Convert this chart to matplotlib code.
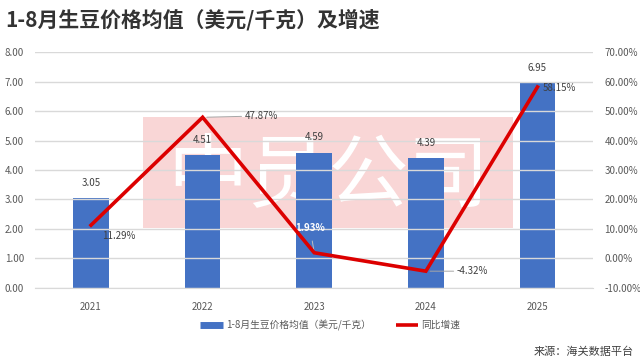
import matplotlib
matplotlib.use("Agg")
import matplotlib.pyplot as plt
from matplotlib.patches import Rectangle
from matplotlib.lines import Line2D
from matplotlib.ticker import FuncFormatter

plt.rcParams['font.family'] = ['Noto Sans CJK SC', 'DejaVu Sans']

years = ["2021", "2022", "2023", "2024", "2025"]
prices = [3.05, 4.51, 4.59, 4.39, 6.95]
growth = [11.29, 47.87, 1.93, -4.32, 58.15]
title = "1-8月生豆价格均值（美元/千克）及增速"
bar_label = "1-8月生豆价格均值（美元/千克）"
line_label = "同比增速"
source = "来源：海关数据平台"

bar_color = "#4472C4"
line_color = "#DC0000"
tick_color = "#595959"

fig = plt.figure(figsize=(6.4, 3.64), dpi=100)
ax = fig.add_axes([0.055, 0.209, 0.872, 0.648])
ax2 = ax.twinx()

x = list(range(len(years)))

# watermark
ax.add_patch(Rectangle((0.194, 0.254), 0.663, 0.471, transform=ax.transAxes,
                       facecolor="#F9D6D6", edgecolor="none", zorder=0.5))
ax.text(0.525, 0.47, "中员公司", transform=ax.transAxes, ha="center", va="center",
        fontsize=58, color="white", zorder=0.6)

ax.bar(x, prices, width=0.32, color=bar_color, zorder=2)
for xi, v in zip(x, prices):
    ax.annotate(f"{v:.2f}", (xi, v), xytext=(0, 11), textcoords="offset points",
                ha="center", va="center", fontsize=7, color="#404040", zorder=3)

ax.set_xlim(-0.5, len(years) - 0.5)
ax.set_ylim(0, 8)
ax.set_yticks([i for i in range(9)])
ax.yaxis.set_major_formatter(FuncFormatter(lambda v, p: f"{v:.2f}"))
ax.grid(axis="y", color="#D9D9D9", linewidth=1, zorder=1)
ax.set_axisbelow(False)
ax.set_xticks(x)
ax.set_xticklabels(years)
for s in ax.spines.values():
    s.set_visible(False)
ax.spines["bottom"].set_visible(True)
ax.spines["bottom"].set_color("#D9D9D9")
ax.tick_params(axis="both", length=0, labelsize=7, colors=tick_color, pad=10)
ax.tick_params(axis="y", pad=8)
ax.patch.set_visible(False)

ax2.plot(x, growth, color=line_color, linewidth=2.6, zorder=4, solid_joinstyle="miter")
ax2.set_ylim(-10, 70)
ax2.set_yticks(list(range(-10, 71, 10)))
ax2.yaxis.set_major_formatter(FuncFormatter(lambda v, p: f"{v:.2f}%"))
for s in ax2.spines.values():
    s.set_visible(False)
ax2.tick_params(axis="y", length=0, labelsize=7, colors=tick_color, pad=8)

lab_kw = dict(fontsize=7, color="#404040", textcoords="offset points")
ax2.annotate(f"{growth[0]:.2f}%", (x[0], growth[0]), xytext=(8, -8), ha="left", va="center", **lab_kw)
ax2.annotate(f"{growth[1]:.2f}%", (x[1], growth[1]), xytext=(30, 1), ha="left", va="center",
             arrowprops=dict(arrowstyle="-", color="#A6A6A6", lw=0.7, shrinkA=0, shrinkB=3), **lab_kw)
ax2.annotate(f"{growth[2]:.2f}%", (x[2], growth[2]), xytext=(-3, 18), ha="center", va="center",
             fontsize=7, color="white", fontweight="bold", textcoords="offset points",
             arrowprops=dict(arrowstyle="-", color="#BFBFBF", lw=0.7, shrinkA=4, shrinkB=2))
ax2.annotate(f"{growth[3]:.2f}%", (x[3], growth[3]), xytext=(22, 0), ha="left", va="center",
             arrowprops=dict(arrowstyle="-", color="#A6A6A6", lw=0.7, shrinkA=0, shrinkB=3), **lab_kw)
ax2.annotate(f"{growth[4]:.2f}%", (x[4], growth[4]), xytext=(4, -1), ha="left", va="center", **lab_kw)

fig.text(0.008, 0.945, title, fontsize=15, fontweight="bold", color="#333333", ha="left", va="center")

handles = [Line2D([0], [0], color=bar_color, lw=5, solid_capstyle="butt"),
           Line2D([0], [0], color=line_color, lw=2.6, solid_capstyle="butt")]
fig.legend(handles, [bar_label, line_label], loc="center", bbox_to_anchor=(0.516, 0.107),
           ncol=2, frameon=False, fontsize=7, handlelength=2.3, handletextpad=0.3,
           columnspacing=2.6, labelcolor=tick_color)

fig.text(0.99, 0.033, source, fontsize=8, color="#404040", ha="right", va="center")

fig.savefig("out.png", dpi=100, facecolor="white")
